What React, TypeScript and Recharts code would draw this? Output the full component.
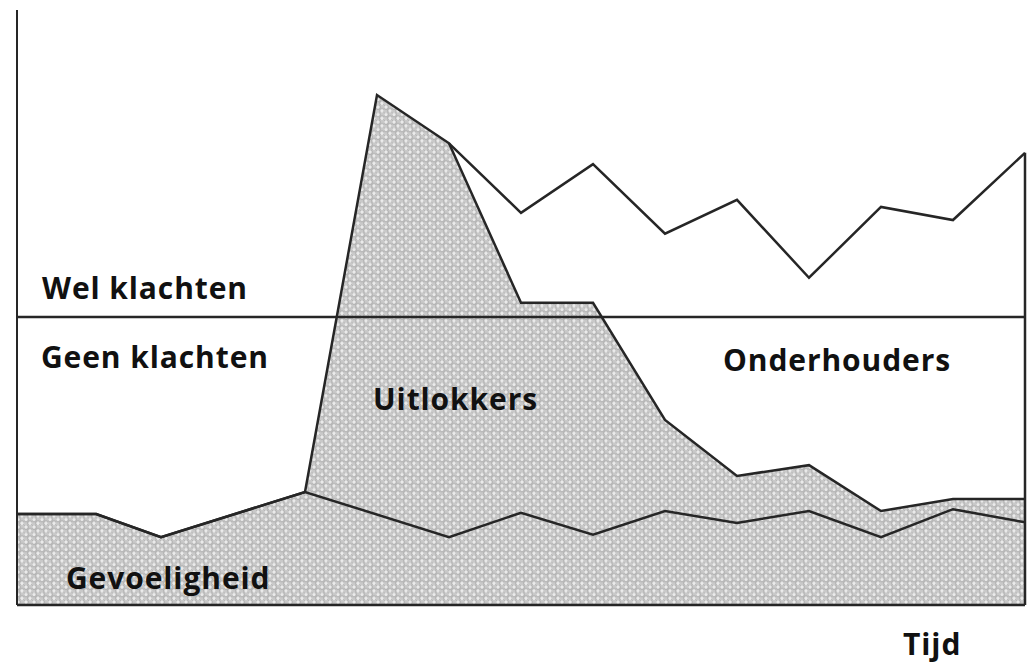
import { ComposedChart, Area, Line, XAxis, YAxis, ReferenceLine } from 'recharts';

// Time points (arbitrary units along "Tijd")
const TIME = [0, 1.1, 2, 4, 5, 6, 7, 8, 9, 10, 11, 12, 13, 14];

// Level of the base layer (sensitivity)
const GEVOELIGHEID = [15.3, 15.3, 11.4, 19.0, null, 11.4, 15.5, 11.8, 15.8, 13.8, 15.8, 11.4, 16.1, 13.9];

// Top of the triggers layer (shaded)
const UITLOKKERS = [null, null, null, 19.0, 85.7, 77.6, 50.8, 50.8, 31.1, 21.7, 23.5, 15.8, 17.8, 17.8];

// Top of the maintainers layer (unshaded)
const ONDERHOUDERS = [null, null, null, null, null, 77.6, 65.9, 74.1, 62.4, 68.1, 55.0, 66.9, 64.7, 76.0];

// Threshold between "geen klachten" and "wel klachten"
const KLACHTEN_GRENS = 48.4;

const data = TIME.map((t, i) => ({
  t,
  gevoeligheid: GEVOELIGHEID[i],
  uitlokkers: UITLOKKERS[i],
  onderhouders: ONDERHOUDERS[i],
}));

const INK = '#262626';
const FONT = '"Open Sans", Lato, sans-serif';

const labelStyle = (left: number, top: number): React.CSSProperties => ({
  position: 'absolute',
  left,
  top,
  fontFamily: FONT,
  fontWeight: 700,
  fontSize: 30,
  letterSpacing: 0.9,
  lineHeight: 1,
  color: '#111',
  whiteSpace: 'nowrap',
});

export default function App() {
  const last = ONDERHOUDERS[ONDERHOUDERS.length - 1] as number;
  return (
    <div style={{ position: 'fixed', left: 0, top: 0, width: 1028, height: 665, background: '#fff' }}>
      <ComposedChart width={1028} height={665} data={data} margin={{ top: 10, right: 3, left: 17, bottom: 60 }}>
        <defs>
          <pattern id="dots" width="8" height="7.5" patternUnits="userSpaceOnUse">
            <rect width="8" height="7.5" fill="#c9c9c9" />
            <circle cx="2" cy="2" r="2.3" fill="#ebebeb" stroke="#9e9e9e" strokeWidth="0.8" />
            <circle cx="6" cy="5.75" r="2.3" fill="#ebebeb" stroke="#9e9e9e" strokeWidth="0.8" />
          </pattern>
        </defs>
        <XAxis dataKey="t" type="number" domain={[0, 14]} hide />
        <YAxis type="number" domain={[0, 100]} hide />
        <Area
          dataKey="gevoeligheid"
          type="linear"
          fill="url(#dots)"
          fillOpacity={1}
          stroke={INK}
          strokeWidth={2.5}
          connectNulls
          dot={false}
          activeDot={false}
          isAnimationActive={false}
        />
        <Area
          dataKey="uitlokkers"
          type="linear"
          fill="url(#dots)"
          fillOpacity={1}
          stroke={INK}
          strokeWidth={2.5}
          dot={false}
          activeDot={false}
          isAnimationActive={false}
        />
        <Line
          dataKey="gevoeligheid"
          type="linear"
          stroke={INK}
          strokeWidth={2.5}
          connectNulls
          dot={false}
          activeDot={false}
          isAnimationActive={false}
        />
        <Line
          dataKey="onderhouders"
          type="linear"
          stroke={INK}
          strokeWidth={2.5}
          dot={false}
          activeDot={false}
          isAnimationActive={false}
        />
        <ReferenceLine y={KLACHTEN_GRENS} stroke={INK} strokeWidth={2.5} />
        <ReferenceLine
          segment={[
            { x: 14, y: 0 },
            { x: 14, y: last },
          ]}
          stroke={INK}
          strokeWidth={2.5}
        />
        <ReferenceLine x={0} stroke={INK} strokeWidth={2} />
        <ReferenceLine y={0} stroke={INK} strokeWidth={2.5} />
      </ComposedChart>
      <div style={labelStyle(42, 273)}>Wel klachten</div>
      <div style={labelStyle(41, 342)}>Geen klachten</div>
      <div style={labelStyle(373, 384)}>Uitlokkers</div>
      <div style={labelStyle(723, 345)}>Onderhouders</div>
      <div style={labelStyle(66, 563)}>Gevoeligheid</div>
      <div style={labelStyle(903, 629)}>Tijd</div>
    </div>
  );
}
